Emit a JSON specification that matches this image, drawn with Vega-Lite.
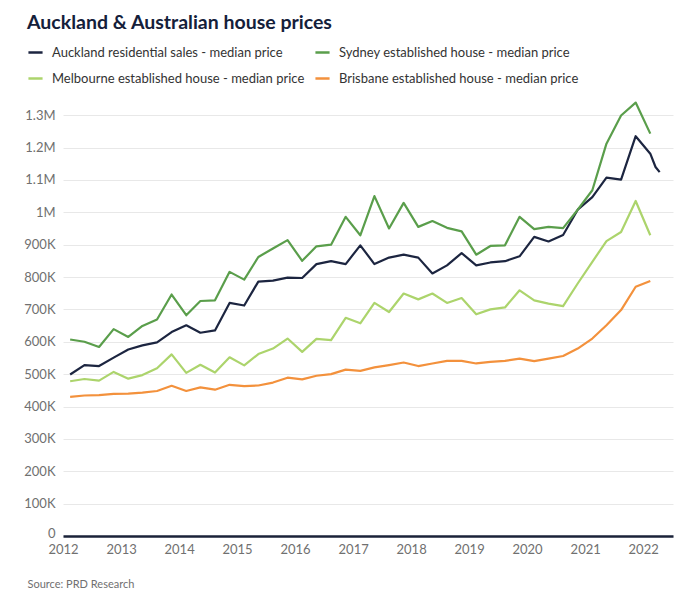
{
  "$schema": "https://vega.github.io/schema/vega-lite/v6.json",
  "autosize": {"type": "none"},
  "width": 610,
  "height": 437,
  "padding": {"left": 63, "top": 99, "right": 3, "bottom": 67},
  "background": "white",
  "title": {
    "text": "Auckland & Australian house prices",
    "anchor": "start",
    "frame": "group",
    "dx": -36,
    "offset": 11,
    "font": "Lato",
    "fontSize": 19.5,
    "fontWeight": "bold",
    "color": "#14203a"
  },
  "data": {
    "values": [
      {"date": "2012-02-15", "Auckland": 499, "Sydney": 607, "Melbourne": 478, "Brisbane": 430},
      {"date": "2012-05-15", "Auckland": 528, "Sydney": 600, "Melbourne": 485, "Brisbane": 434},
      {"date": "2012-08-15", "Auckland": 525, "Sydney": 584, "Melbourne": 480, "Brisbane": 435},
      {"date": "2012-11-15", "Auckland": 551, "Sydney": 639, "Melbourne": 507, "Brisbane": 439},
      {"date": "2013-02-15", "Auckland": 576, "Sydney": 615, "Melbourne": 486, "Brisbane": 440},
      {"date": "2013-05-15", "Auckland": 589, "Sydney": 649, "Melbourne": 497, "Brisbane": 443},
      {"date": "2013-08-15", "Auckland": 598, "Sydney": 669, "Melbourne": 518, "Brisbane": 448},
      {"date": "2013-11-15", "Auckland": 630, "Sydney": 746, "Melbourne": 561, "Brisbane": 464},
      {"date": "2014-02-15", "Auckland": 651, "Sydney": 682, "Melbourne": 504, "Brisbane": 448},
      {"date": "2014-05-15", "Auckland": 628, "Sydney": 726, "Melbourne": 529, "Brisbane": 459},
      {"date": "2014-08-15", "Auckland": 635, "Sydney": 728, "Melbourne": 505, "Brisbane": 452},
      {"date": "2014-11-15", "Auckland": 720, "Sydney": 816, "Melbourne": 552, "Brisbane": 467},
      {"date": "2015-02-15", "Auckland": 712, "Sydney": 792, "Melbourne": 527, "Brisbane": 463},
      {"date": "2015-05-15", "Auckland": 786, "Sydney": 862, "Melbourne": 562, "Brisbane": 465},
      {"date": "2015-08-15", "Auckland": 789, "Sydney": 888, "Melbourne": 579, "Brisbane": 474},
      {"date": "2015-11-15", "Auckland": 798, "Sydney": 914, "Melbourne": 610, "Brisbane": 489},
      {"date": "2016-02-15", "Auckland": 797, "Sydney": 850, "Melbourne": 569, "Brisbane": 484},
      {"date": "2016-05-15", "Auckland": 840, "Sydney": 895, "Melbourne": 609, "Brisbane": 495},
      {"date": "2016-08-15", "Auckland": 849, "Sydney": 900, "Melbourne": 605, "Brisbane": 500},
      {"date": "2016-11-15", "Auckland": 840, "Sydney": 986, "Melbourne": 674, "Brisbane": 514},
      {"date": "2017-02-15", "Auckland": 898, "Sydney": 929, "Melbourne": 657, "Brisbane": 510},
      {"date": "2017-05-15", "Auckland": 840, "Sydney": 1050, "Melbourne": 720, "Brisbane": 521},
      {"date": "2017-08-15", "Auckland": 860, "Sydney": 950, "Melbourne": 692, "Brisbane": 528},
      {"date": "2017-11-15", "Auckland": 869, "Sydney": 1029, "Melbourne": 749, "Brisbane": 536},
      {"date": "2018-02-15", "Auckland": 860, "Sydney": 955, "Melbourne": 731, "Brisbane": 525},
      {"date": "2018-05-15", "Auckland": 811, "Sydney": 973, "Melbourne": 749, "Brisbane": 533},
      {"date": "2018-08-15", "Auckland": 836, "Sydney": 952, "Melbourne": 720, "Brisbane": 541},
      {"date": "2018-11-15", "Auckland": 874, "Sydney": 941, "Melbourne": 735, "Brisbane": 541},
      {"date": "2019-02-15", "Auckland": 836, "Sydney": 869, "Melbourne": 685, "Brisbane": 533},
      {"date": "2019-05-15", "Auckland": 845, "Sydney": 896, "Melbourne": 700, "Brisbane": 538},
      {"date": "2019-08-15", "Auckland": 849, "Sydney": 898, "Melbourne": 706, "Brisbane": 541},
      {"date": "2019-11-15", "Auckland": 864, "Sydney": 986, "Melbourne": 759, "Brisbane": 548},
      {"date": "2020-02-15", "Auckland": 924, "Sydney": 948, "Melbourne": 728, "Brisbane": 540},
      {"date": "2020-05-15", "Auckland": 910, "Sydney": 955, "Melbourne": 718, "Brisbane": 548},
      {"date": "2020-08-15", "Auckland": 930, "Sydney": 951, "Melbourne": 710, "Brisbane": 556},
      {"date": "2020-11-15", "Auckland": 1008, "Sydney": 1008, "Melbourne": 780, "Brisbane": 579},
      {"date": "2021-02-15", "Auckland": 1047, "Sydney": 1068, "Melbourne": 847, "Brisbane": 610},
      {"date": "2021-05-15", "Auckland": 1107, "Sydney": 1212, "Melbourne": 911, "Brisbane": 651},
      {"date": "2021-08-15", "Auckland": 1101, "Sydney": 1299, "Melbourne": 939, "Brisbane": 698},
      {"date": "2021-11-15", "Auckland": 1235, "Sydney": 1339, "Melbourne": 1035, "Brisbane": 770},
      {"date": "2022-02-15", "Auckland": 1181, "Sydney": 1243, "Melbourne": 929, "Brisbane": 788},
      {"date": "2022-03-20", "Auckland": 1140},
      {"date": "2022-04-15", "Auckland": 1124}
    ]
  },
  "transform": [
    {"fold": ["Auckland", "Sydney", "Melbourne", "Brisbane"], "as": ["city", "price"]},
    {"filter": "isValid(datum.price)"}
  ],
  "mark": {"type": "line", "strokeWidth": 2.2, "strokeJoin": "round"},
  "encoding": {
    "x": {
      "field": "date",
      "type": "temporal",
      "scale": {"domain": [{"year": 2012, "month": 1, "date": 1}, {"year": 2022, "month": 7, "date": 8}]},
      "axis": {
        "tickCount": {"interval": "year", "step": 1},
        "format": "%Y",
        "grid": false,
        "ticks": false,
        "domainColor": "#1a2238",
        "domainWidth": 2.5,
        "labelPadding": 7,
        "labelFont": "Lato",
        "labelFontSize": 13,
        "labelColor": "#707070",
        "labelFlush": false,
        "title": "Source: PRD Research",
        "titleAnchor": "start",
        "titleAlign": "left",
        "titleX": -36,
        "titleY": 42,
        "titleFont": "Lato",
        "titleFontSize": 11,
        "titleFontWeight": "normal",
        "titleColor": "#707070"
      }
    },
    "y": {
      "field": "price",
      "type": "quantitative",
      "scale": {"domain": [0, 1350], "nice": false},
      "axis": {
        "values": [0, 100, 200, 300, 400, 500, 600, 700, 800, 900, 1000, 1100, 1200, 1300],
        "labelExpr": "datum.value == 0 ? '0' : (datum.value >= 1000 ? (datum.value / 1000) + 'M' : datum.value + 'K')",
        "labelOffset": {"condition": {"test": "datum.value == 0", "value": -3}, "value": 0},
        "domain": false,
        "ticks": false,
        "gridColor": "#e8e8e8",
        "gridWidth": 1,
        "labelPadding": 8,
        "labelFont": "Lato",
        "labelFontSize": 13,
        "labelColor": "#707070",
        "title": null
      }
    },
    "color": {
      "field": "city",
      "type": "nominal",
      "scale": {
        "domain": ["Auckland", "Sydney", "Melbourne", "Brisbane"],
        "range": ["#1c2540", "#5a9e4b", "#acd46c", "#f3913c"]
      },
      "legend": {
        "title": null,
        "orient": "none",
        "legendX": -36,
        "legendY": -55,
        "direction": "horizontal",
        "columns": 2,
        "gridAlign": "none",
        "columnPadding": 5,
        "rowPadding": 10,
        "padding": 0,
        "symbolType": "stroke",
        "symbolSize": 200,
        "symbolStrokeWidth": 2.5,
        "labelOffset": 8,
        "labelFont": "Lato",
        "labelFontSize": 13,
        "labelColor": "#333333",
        "labelLimit": 400,
        "labelExpr": "datum.label == 'Auckland' ? 'Auckland residential sales - median price' : datum.label + ' established house - median price'"
      }
    }
  },
  "config": {"view": {"stroke": null}}
}
